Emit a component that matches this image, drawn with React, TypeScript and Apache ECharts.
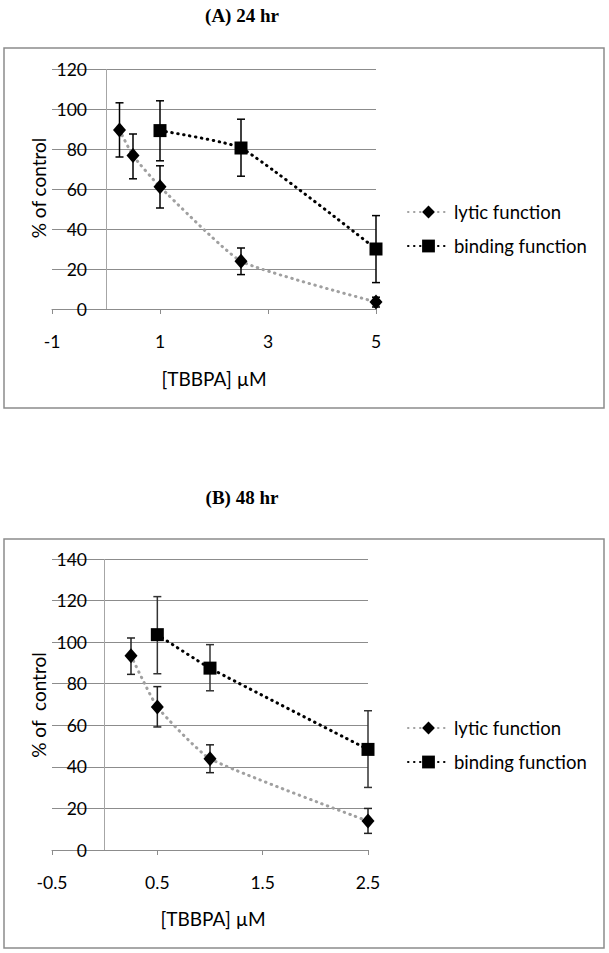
import React, { useEffect, useRef } from "react";
import * as echarts from "echarts";

// ---- Chart A (24 hr) ----
const xA_lytic = [0.25, 0.5, 1, 2.5, 5];
const lyticA = [89.5, 76.7, 61.1, 23.9, 3.5];
const lyticA_lo = [76.0, 65.1, 50.5, 17.2, 1.0];
const lyticA_hi = [103.1, 87.5, 71.6, 30.5, 5.9];
const xA_binding = [1, 2.5, 5];
const bindingA = [89.2, 80.5, 30.0];
const bindingA_lo = [74.1, 66.4, 13.2];
const bindingA_hi = [104.1, 94.9, 46.7];
const xTicksA = [-1, 1, 3, 5];

// ---- Chart B (48 hr) ----
const xB_lytic = [0.25, 0.5, 1, 2.5];
const lyticB = [93.5, 68.8, 43.9, 13.9];
const lyticB_lo = [84.5, 59.2, 37.2, 8.0];
const lyticB_hi = [102.0, 78.6, 50.6, 20.0];
const xB_binding = [0.5, 1, 2.5];
const bindingB = [103.6, 87.5, 48.4];
const bindingB_lo = [84.8, 76.6, 30.1];
const bindingB_hi = [121.9, 98.8, 67.0];
const xTicksB = [-0.5, 0.5, 1.5, 2.5];

const titles = ["(A) 24 hr", "(B) 48 hr"];
const yName = ["% of control", "% of  control"];
const xName = "[TBBPA] µM";
const seriesNames = ["lytic function", "binding function"];

const FONT = "Lato, 'Open Sans', sans-serif";
const GRID_COLOR = "#8c8c8c";

const pairs = (xs: number[], ys: number[]) => xs.map((x, i) => [x, ys[i]]);
const triples = (xs: number[], lo: number[], hi: number[]) => xs.map((x, i) => [x, lo[i], hi[i]]);

function makeErrRender(color: string) {
  return function errRender(params: any, api: any) {
    const x = api.value(0);
    const lo = api.value(1);
    const hi = api.value(2);
    const a = api.coord([x, lo]);
    const b = api.coord([x, hi]);
    const cap = 4;
    const style = { stroke: color, lineWidth: 1.5 };
    return {
      type: "group",
      children: [
        { type: "line", shape: { x1: a[0], y1: a[1], x2: b[0], y2: b[1] }, style },
        { type: "line", shape: { x1: a[0] - cap, y1: a[1], x2: a[0] + cap, y2: a[1] }, style },
        { type: "line", shape: { x1: b[0] - cap, y1: b[1], x2: b[0] + cap, y2: b[1] }, style },
      ],
    };
  };
}

function makeXAxis(gridIndex: number, min: number, max: number, ticks: number[]) {
  return {
    type: "value",
    gridIndex,
    min,
    max,
    axisLine: { show: true, onZero: false, lineStyle: { color: GRID_COLOR, width: 1 } },
    axisTick: { show: true, length: 5, customValues: ticks, lineStyle: { color: GRID_COLOR } },
    axisLabel: { customValues: ticks, margin: 23, color: "#000", fontSize: 17.5, fontFamily: FONT },
    splitLine: { show: false },
  };
}

function makeYAxis(gridIndex: number, max: number) {
  return {
    type: "value",
    gridIndex,
    min: 0,
    max,
    interval: 20,
    axisLine: { show: false },
    axisTick: { show: false },
    axisLabel: { margin: -35, color: "#000", fontSize: 17.5, fontFamily: FONT },
    splitLine: { show: true, lineStyle: { color: GRID_COLOR, width: 1 } },
  };
}

const lyticLine = { color: "#a0a0a0", width: 3, type: [0.5, 5.5], cap: "round" };
const bindingLine = { color: "#000", width: 3, type: [0.5, 5.5], cap: "round" };

function lineSeries(name: string, data: number[][], idx: number, isLytic: boolean, withAxisLine: boolean) {
  const s: any = {
    name,
    type: "line",
    xAxisIndex: idx,
    yAxisIndex: idx,
    data,
    smooth: 0.15,
    symbol: isLytic ? "diamond" : "rect",
    symbolSize: isLytic ? [13, 15] : 13,
    itemStyle: { color: "#000" },
    lineStyle: isLytic ? lyticLine : bindingLine,
    z: 3,
  };
  if (withAxisLine) {
    s.markLine = {
      silent: true,
      symbol: "none",
      label: { show: false },
      lineStyle: { color: "#a6a6a6", width: 1, type: "solid" },
      data: [{ xAxis: 0 }],
      z: 1,
    };
  }
  return s;
}

function errSeries(name: string, data: number[][], idx: number, color: string) {
  return {
    name,
    type: "custom",
    xAxisIndex: idx,
    yAxisIndex: idx,
    data,
    encode: { x: 0, y: [1, 2] },
    renderItem: makeErrRender(color),
    z: 2,
  };
}

function legendAt(top: number) {
  return {
    data: seriesNames,
    orient: "vertical",
    left: 407,
    top,
    padding: 0,
    itemWidth: 41,
    itemHeight: 16,
    itemGap: 14,
    selectedMode: false,
    textStyle: { color: "#000", fontSize: 18.5, fontFamily: FONT, lineHeight: 20 },
  };
}

const TITLE_FONT = "bold 19px 'Liberation Serif', serif";

const option: any = {
  animation: false,
  backgroundColor: "#fff",
  grid: [
    { left: 52, width: 324, top: 69, height: 240 },
    { left: 52, width: 316, top: 559, height: 291 },
  ],
  xAxis: [makeXAxis(0, -1, 5, xTicksA), makeXAxis(1, -0.5, 2.5, xTicksB)],
  yAxis: [makeYAxis(0, 120), makeYAxis(1, 140)],
  legend: [legendAt(202), legendAt(718)],
  series: [
    lineSeries(seriesNames[0], pairs(xA_lytic, lyticA), 0, true, true),
    lineSeries(seriesNames[1], pairs(xA_binding, bindingA), 0, false, false),
    errSeries("lytic err A", triples(xA_lytic, lyticA_lo, lyticA_hi), 0, "#000"),
    errSeries("binding err A", triples(xA_binding, bindingA_lo, bindingA_hi), 0, "#000"),
    lineSeries(seriesNames[0], pairs(xB_lytic, lyticB), 1, true, true),
    lineSeries(seriesNames[1], pairs(xB_binding, bindingB), 1, false, false),
    errSeries("lytic err B", triples(xB_lytic, lyticB_lo, lyticB_hi), 1, "#222"),
    errSeries("binding err B", triples(xB_binding, bindingB_lo, bindingB_hi), 1, "#333"),
  ],
  graphic: [
    { type: "rect", shape: { x: 4, y: 48, width: 600, height: 360 }, style: { fill: "none", stroke: GRID_COLOR, lineWidth: 1.5 }, z: -1 },
    { type: "rect", shape: { x: 4, y: 539, width: 600, height: 409 }, style: { fill: "none", stroke: GRID_COLOR, lineWidth: 1.5 }, z: -1 },
    { type: "text", x: 242, y: 15, style: { text: titles[0], align: "center", verticalAlign: "middle", fill: "#000", font: TITLE_FONT } },
    { type: "text", x: 242, y: 497, style: { text: titles[1], align: "center", verticalAlign: "middle", fill: "#000", font: TITLE_FONT } },
    { type: "text", x: 38, y: 188, rotation: Math.PI / 2, style: { text: yName[0], align: "center", verticalAlign: "middle", fill: "#000", fontSize: 19, fontFamily: FONT } },
    { type: "text", x: 38, y: 705, rotation: Math.PI / 2, style: { text: yName[1], align: "center", verticalAlign: "middle", fill: "#000", fontSize: 19, fontFamily: FONT } },
    { type: "text", x: 214, y: 378, style: { text: xName, align: "center", verticalAlign: "middle", fill: "#000", fontSize: 19, fontFamily: FONT } },
    { type: "text", x: 213, y: 918, style: { text: xName, align: "center", verticalAlign: "middle", fill: "#000", fontSize: 19, fontFamily: FONT } },
  ],
};

export default function App() {
  const ref = useRef<HTMLDivElement>(null);
  useEffect(() => {
    const chart = echarts.init(ref.current!, null, { renderer: "svg" });
    chart.setOption(option);
    return () => chart.dispose();
  }, []);
  return (
    <div
      ref={ref}
      style={{ position: "absolute", left: 0, top: 0, width: 609, height: 953 }}
    />
  );
}
